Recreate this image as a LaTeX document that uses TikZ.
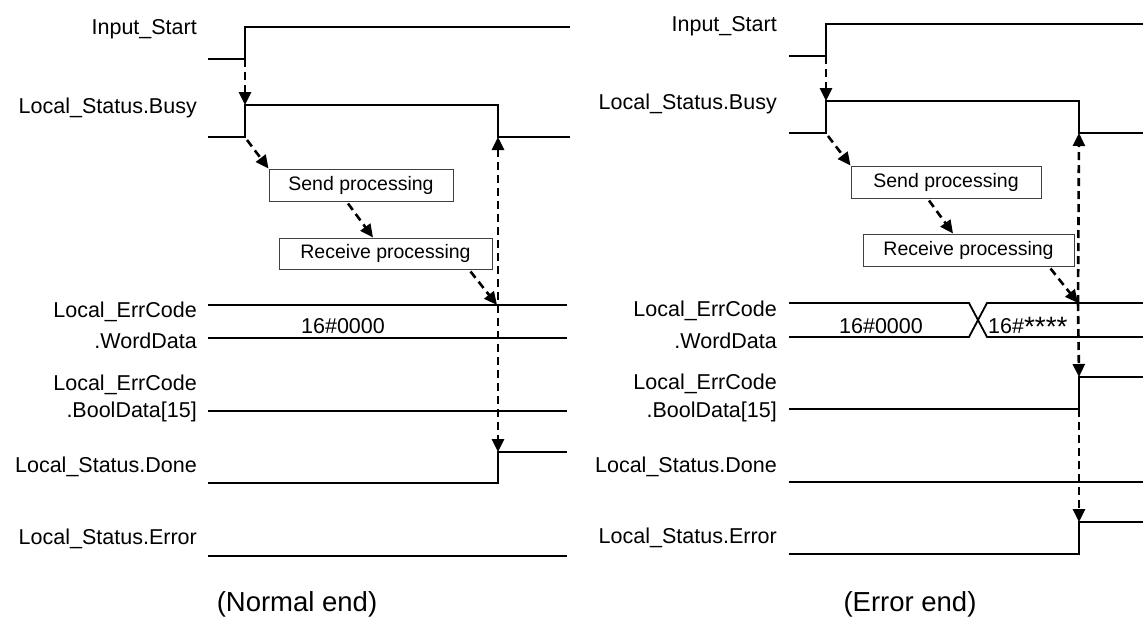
\documentclass[tikz,border=0pt]{standalone}
\usepackage{fontspec}
\setmainfont{Liberation Sans}
\usetikzlibrary{arrows.meta,calc}
\newcommand{\bigast}{\raisebox{-3.5pt}{\scalebox{1.3}{*}}}
\begin{document}
\begin{tikzpicture}[x=1pt,y=-1pt,
  sig/.style={line width=1.8pt, line join=miter},
  lbl/.style={anchor=base east, inner sep=0pt, font=\fontsize{21.5}{24}\selectfont},
  val/.style={anchor=base, inner sep=0pt, font=\fontsize{21.5}{24}\selectfont},
  procbox/.style={draw=black!75, line width=1pt, fill=white, inner sep=0pt,
    font=\fontsize{19.5}{22}\selectfont},
  captxt/.style={anchor=base, inner sep=0pt, font=\fontsize{27.5}{30}\selectfont},
  darr/.style={line width=2.6pt, dash pattern=on 8pt off 5pt,
    -{Triangle[length=13pt,width=12pt]}},
  darrboth/.style={line width=2.6pt, dash pattern=on 8pt off 5pt,
    {Triangle[length=13pt,width=12pt]}-{Triangle[length=13pt,width=12pt]}},
]
\useasboundingbox (0,0) rectangle (1143,626);

% ================= Left panel (Normal end) =================
\node[lbl] (LlIn)  at (197,35)  {Input\_Start};
\node[lbl] (LlBu)  at (197,113) {Local\_Status.Busy};
\node[lbl] (LlEc1) at (197,317) {Local\_ErrCode};
\node[lbl] (LlWd)  at (197,348) {.WordData};
\node[lbl] (LlEc2) at (197,390) {Local\_ErrCode};
\node[lbl] (LlBd)  at (197,417) {.BoolData[15]};
\node[lbl] (LlDo)  at (197,472) {Local\_Status.Done};
\node[lbl] (LlEr)  at (197,544) {Local\_Status.Error};

\coordinate (LinR)  at (245,59);
\coordinate (LbuRt) at (245,105);
\coordinate (LbuRb) at (245,137);
\coordinate (LbuF)  at (498,137);
\coordinate (Lhit)  at (497,305);
\coordinate (LdoR)  at (498,452);

\draw[sig] (208,59) -- (LinR) -- (245,27) -- (570,27);
\draw[sig] (208,137) -- (LbuRb) -- (LbuRt) -- (498,105) -- (LbuF) -- (570,137);
\draw[sig] (208,305) -- (567,305);
\draw[sig] (208,338) -- (567,338);
\draw[sig] (208,411) -- (567,411);
\draw[sig] (208,483) -- (498,483) -- (LdoR) -- (567,452);
\draw[sig] (208,556) -- (567,556);

\node[val] (Lv0) at (343,333) {16\#0000};

\node[procbox, minimum width=184pt, minimum height=32pt] (Lsend) at (361,185) {Send processing};
\node[procbox, minimum width=213pt, minimum height=31pt] (Lrecv) at (385.5,253.5) {Receive processing};

\draw[darr] (LinR) -- (LbuRt);
\draw[darr] ([shift={(2pt,-3pt)}]LbuRb) -- (Lsend.north west);
\draw[darr] ([shift={(-13pt,-2pt)}]Lsend.south) -- ([xshift=-12.5pt]Lrecv.north);
\draw[darr] ([shift={(-22pt,-2pt)}]Lrecv.south east) -- (Lhit);
\draw[darrboth] (LbuF) -- (LdoR);

\node[captxt] (Lcap) at (297,611) {(Normal end)};

% ================= Right panel (Error end) =================
\node[lbl] (RlIn)  at (777,32)  {Input\_Start};
\node[lbl] (RlBu)  at (777,110) {Local\_Status.Busy};
\node[lbl] (RlEc1) at (777,316) {Local\_ErrCode};
\node[lbl] (RlWd)  at (777,348) {.WordData};
\node[lbl] (RlEc2) at (777,389) {Local\_ErrCode};
\node[lbl] (RlBd)  at (777,417) {.BoolData[15]};
\node[lbl] (RlDo)  at (777,472) {Local\_Status.Done};
\node[lbl] (RlEr)  at (777,543) {Local\_Status.Error};

\coordinate (RinR)  at (826,56);
\coordinate (RbuRt) at (826,101);
\coordinate (RbuRb) at (826,133);
\coordinate (RbuF)  at (1079,133);
\coordinate (Rhit)  at (1078,303);
\coordinate (RboR)  at (1079,377);
\coordinate (RboL)  at (1079,409);
\coordinate (RerR)  at (1079,522);

\draw[sig] (789,56) -- (RinR) -- (826,24) -- (1143,24);
\draw[sig] (789,133) -- (RbuRb) -- (RbuRt) -- (1079,101) -- (RbuF) -- (1143,133);
\draw[sig] (789,303) -- (969,303) -- (987,337) -- (1143,337);
\draw[sig] (789,337) -- (969,337) -- (987,303) -- (1143,303);
\draw[sig] (789,409) -- (RboL) -- (RboR) -- (1143,377);
\draw[sig] (789,482) -- (1143,482);
\draw[sig] (789,554) -- (1079,554) -- (RerR) -- (1143,522);

\node[val] (Rv0) at (881,333) {16\#0000};
\node[val, anchor=base west] (Rv1) at (988,333) {16\#\bigast\bigast\bigast\bigast};

\node[procbox, minimum width=190pt, minimum height=32pt] (Rsend) at (946,182) {Send processing};
\node[procbox, minimum width=211pt, minimum height=32pt] (Rrecv) at (968.5,250) {Receive processing};

\draw[darr] (RinR) -- (RbuRt);
\draw[darr] ([shift={(2pt,-3pt)}]RbuRb) -- (Rsend.north west);
\draw[darr] ([shift={(-17pt,-2pt)}]Rsend.south) -- ([xshift=-15.5pt]Rrecv.north);
\draw[darr] ([shift={(-24pt,-2pt)}]Rrecv.south east) -- (Rhit);
\draw[darr] (Rhit) -- (RbuF);
\draw[darr] (Rhit) -- (RboR);
\draw[darr] (RboL) -- (RerR);

\node[captxt] (Rcap) at (910,611) {(Error end)};
\end{tikzpicture}
\end{document}
